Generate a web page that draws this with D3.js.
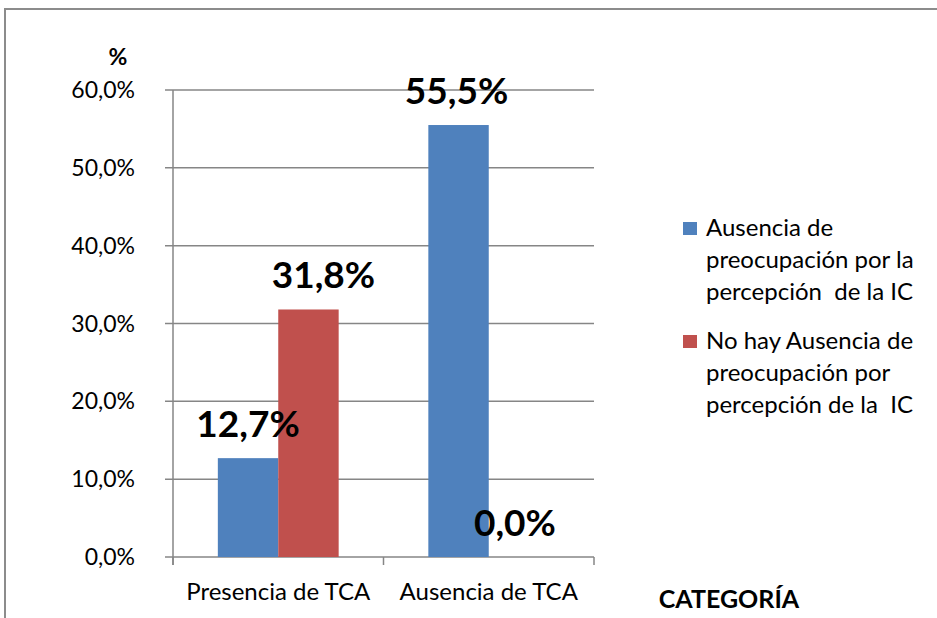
<!DOCTYPE html>
<html>
<head>
<meta charset="utf-8">
<script src="https://cdn.jsdelivr.net/npm/d3@7"></script>
<style>
  html, body { margin: 0; padding: 0; background: #fff; }
  svg { display: block; }
  text { font-family: Lato, "Open Sans", sans-serif; fill: #000; }
</style>
</head>
<body>
<svg id="chart" width="937" height="618"></svg>
<script>
// ——— Data ———
const categories = ['Presencia de TCA', 'Ausencia de TCA'];
const seriesNames = [
    ['Ausencia de', 'preocupación por la', 'percepción  de la IC'],
    ['No hay Ausencia de', 'preocupación por', 'percepción de la  IC']
];
const ausenciaPreocupacion = [12.7, 55.5];
const noHayAusencia = [31.8, 0.0];
const yTicks = [0, 10, 20, 30, 40, 50, 60];
const colors = ['#4F81BD', '#C0504D'];

const fmt = v => v.toFixed(1).replace('.', ',') + '%';

const svg = d3.select('#chart');

// ——— Outer frame ———
svg.append('path')
    .attr('d', 'M5,640 L5,9 L960,9')
    .attr('fill', 'none')
    .attr('stroke', '#8c8c8c')
    .attr('stroke-width', 2);

// ——— Scales ———
const plot = { left: 173, right: 594, top: 90, bottom: 557 };

const x = d3.scaleBand()
    .domain(categories)
    .range([plot.left, plot.right]);

const xInner = d3.scaleBand()
    .domain([0, 1])
    .range([0, x.bandwidth() * 0.574])
    .padding(0);

const y = d3.scaleLinear()
    .domain([0, 60])
    .range([plot.bottom, plot.top]);

// ——— Gridlines ———
svg.append('g')
    .selectAll('line')
    .data(yTicks)
    .join('line')
    .attr('x1', plot.left - 8)
    .attr('x2', plot.right)
    .attr('y1', d => y(d))
    .attr('y2', d => y(d))
    .attr('stroke', '#868686')
    .attr('stroke-width', 1.5);

// y tick labels
svg.append('g')
    .selectAll('text')
    .data(yTicks)
    .join('text')
    .attr('x', 135)
    .attr('y', d => y(d) + 8)
    .attr('text-anchor', 'end')
    .attr('font-size', '23px')
    .text(d => d.toFixed(1).replace('.', ',') + '%');

// y axis line
svg.append('line')
    .attr('x1', plot.left).attr('x2', plot.left)
    .attr('y1', plot.top).attr('y2', plot.bottom + 8)
    .attr('stroke', '#868686').attr('stroke-width', 1.5);

// x category ticks
const xTickPos = [plot.left, ...categories.map(c => x(c) + x.bandwidth())];
svg.append('g')
    .selectAll('line')
    .data(xTickPos)
    .join('line')
    .attr('x1', d => d).attr('x2', d => d)
    .attr('y1', plot.bottom).attr('y2', plot.bottom + 8)
    .attr('stroke', '#868686').attr('stroke-width', 1.5);

// ——— Bars ———
const groupOffset = (x.bandwidth() - x.bandwidth() * 0.574) / 2;
const series = [ausenciaPreocupacion, noHayAusencia];
const barData = [];
series.forEach((vals, si) => {
    vals.forEach((v, ci) => barData.push({ si, ci, v }));
});

svg.append('g')
    .selectAll('rect')
    .data(barData)
    .join('rect')
    .attr('x', d => x(categories[d.ci]) + groupOffset + xInner(d.si))
    .attr('width', xInner.bandwidth())
    .attr('y', d => y(d.v))
    .attr('height', d => y(0) - y(d.v))
    .attr('fill', d => colors[d.si]);

// data labels
const labelDx = [[0, -2], [15, -4]];
svg.append('g')
    .selectAll('text')
    .data(barData)
    .join('text')
    .attr('x', d => x(categories[d.ci]) + groupOffset + xInner(d.si) + xInner.bandwidth() / 2 + labelDx[d.si][d.ci])
    .attr('y', d => y(d.v) - 21)
    .attr('text-anchor', 'middle')
    .attr('font-size', '37px')
    .attr('font-weight', 'bold')
    .text(d => fmt(d.v));

// category labels
svg.append('g')
    .selectAll('text')
    .data(categories)
    .join('text')
    .attr('x', d => x(d) + x.bandwidth() / 2)
    .attr('y', 600)
    .attr('text-anchor', 'middle')
    .attr('font-size', '24px')
    .text(d => d);

// axis titles
svg.append('text')
    .attr('x', 118).attr('y', 65)
    .attr('text-anchor', 'middle')
    .attr('font-size', '23px')
    .attr('font-weight', 'bold')
    .text('%');

svg.append('text')
    .attr('x', 729).attr('y', 608)
    .attr('text-anchor', 'middle')
    .attr('font-size', '25px')
    .attr('font-weight', 'bold')
    .text('CATEGORÍA');

// ——— Legend ———
const legend = svg.append('g');
const legendTop = [236, 349];
seriesNames.forEach((lines, i) => {
    legend.append('rect')
        .attr('x', 683).attr('y', legendTop[i] - 14)
        .attr('width', 14).attr('height', 13)
        .attr('fill', colors[i]);
    const t = legend.append('text')
        .attr('x', 706)
        .attr('y', legendTop[i])
        .attr('font-size', '24px')
        .style('white-space', 'pre');
    lines.forEach((ln, j) => {
        t.append('tspan')
            .attr('x', 706)
            .attr('dy', j === 0 ? 0 : 32)
            .text(ln);
    });
});
</script>
</body>
</html>
